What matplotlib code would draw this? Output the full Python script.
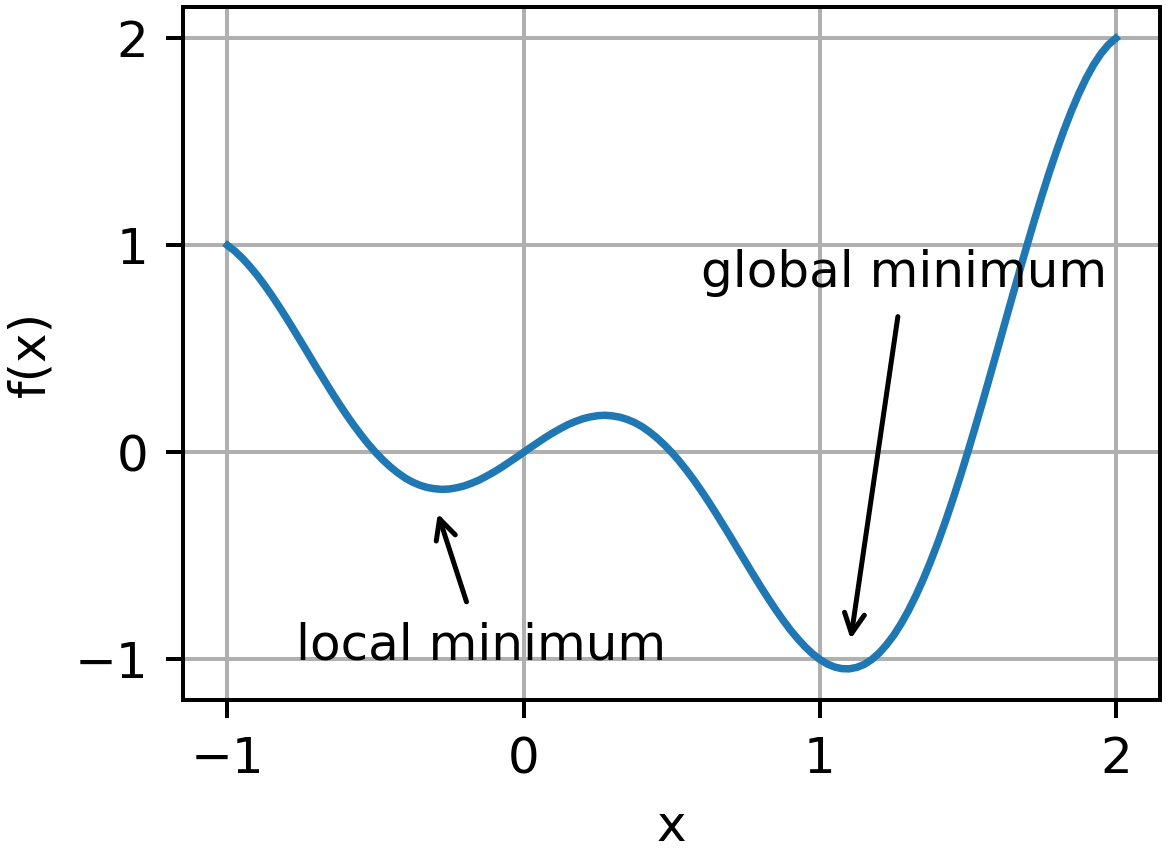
import numpy as np
import matplotlib
matplotlib.use("Agg")
import matplotlib.pyplot as plt

# sample grid along x (step 0.025) and the values
x_vals = np.linspace(-1.0, 2.0, 121)
y_vals = [1.000, 0.972, 0.938, 0.899, 0.856, 0.808, 0.757, 0.703, 0.647, 0.589,
          0.530, 0.471, 0.411, 0.353, 0.295, 0.239, 0.185, 0.134, 0.086, 0.041,
          0.000, -0.037, -0.070, -0.099, -0.124, -0.144, -0.159, -0.170, -0.176, -0.179,
          -0.177, -0.171, -0.162, -0.149, -0.134, -0.115, -0.095, -0.073, -0.049, -0.025,
          0.000, 0.025, 0.049, 0.073, 0.095, 0.115, 0.134, 0.149, 0.162, 0.171,
          0.177, 0.179, 0.176, 0.170, 0.159, 0.144, 0.124, 0.099, 0.070, 0.037,
          0.000, -0.041, -0.086, -0.134, -0.185, -0.239, -0.295, -0.353, -0.411, -0.471,
          -0.530, -0.589, -0.647, -0.703, -0.757, -0.808, -0.856, -0.899, -0.938, -0.972,
          -1.000, -1.022, -1.037, -1.045, -1.046, -1.039, -1.025, -1.002, -0.971, -0.931,
          -0.884, -0.828, -0.764, -0.692, -0.613, -0.526, -0.433, -0.333, -0.227, -0.116,
          0.000, 0.120, 0.242, 0.368, 0.494, 0.622, 0.749, 0.875, 0.999, 1.120,
          1.237, 1.350, 1.456, 1.556, 1.648, 1.732, 1.807, 1.872, 1.926, 1.969,
          2.000]

# annotations: (text, arrow tip, text position)
local_label = ("local minimum", (-0.3, -0.25), (-0.77, -1.0))
global_label = ("global minimum", (1.1, -0.95), (0.6, 0.8))

fig, ax = plt.subplots(figsize=(1166 / 360, 851 / 360), dpi=360)
fig.subplots_adjust(left=0.157, right=0.995, top=0.992, bottom=0.177)

ax.plot(x_vals, y_vals, color="C0", linewidth=1.5)
for text, tip, pos in [local_label, global_label]:
    ax.annotate(text, xy=tip, xytext=pos, arrowprops=dict(arrowstyle="->"))

ax.set_xticks([-1, 0, 1, 2])
ax.set_yticks([-1, 0, 1, 2])
ax.set_xlabel("x")
ax.set_ylabel("f(x)")
ax.grid(True)

fig.savefig("out.png", dpi=360)
